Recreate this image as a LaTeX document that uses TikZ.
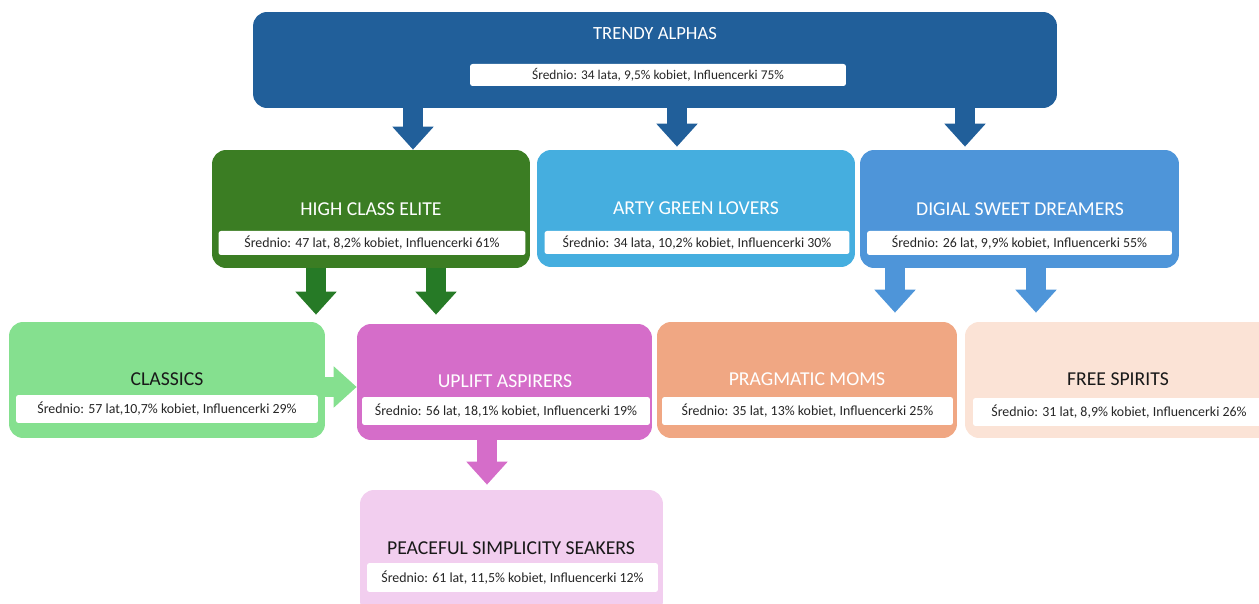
\documentclass[tikz,border=0pt]{standalone}
\usepackage{fontspec}
\setmainfont{Carlito}
\usetikzlibrary{positioning, arrows.meta}

\definecolor{alphablue}{HTML}{215F9A}
\definecolor{elitegreen}{HTML}{3B7D23}
\definecolor{elitearrow}{HTML}{267A26}
\definecolor{artyblue}{HTML}{45AEDF}
\definecolor{dreamblue}{HTML}{4E95D9}
\definecolor{classicgreen}{HTML}{85E08F}
\definecolor{upliftpink}{HTML}{D56DC9}
\definecolor{momorange}{HTML}{F0A783}
\definecolor{spiritpeach}{HTML}{FBE3D6}
\definecolor{peacepink}{HTML}{F2CEEF}

\begin{document}
\begin{tikzpicture}[
    x=0.02cm, y=-0.02cm,
    % Styles
    group/.style={rectangle, rounded corners=0.28cm, inner sep=0pt},
    title/.style={font=\fontsize{11.2}{13}\selectfont, text=white, inner sep=0pt},
    darktitle/.style={title, text=black!90},
    stats/.style={fill=white, rectangle, rounded corners=0.05cm, inner sep=0pt,
        font=\fontsize{7.9}{9}\selectfont, text=black!85},
    blockarrow/.style={line width=0.4cm, -{Triangle[length=0.46cm, width=0.8cm]}}
]
    \useasboundingbox (0,0) rectangle (1259,604);

    % --- TOP LEVEL ---
    \node[group, fill=alphablue, minimum width=16.08cm, minimum height=1.92cm] (alphas) at (655,60) {};
    \node[title, font=\fontsize{10.6}{12}\selectfont] (alphas-t) at (655,34) {TRENDY ALPHAS};
    \node[stats, minimum width=7.52cm, minimum height=0.44cm, font=\fontsize{7.6}{9}\selectfont] (alphas-s) at (658,75) {Średnio: 34 lata, 9,5\% kobiet, Influencerki 75\%};

    % --- SECOND LEVEL ---
    \node[group, fill=elitegreen, minimum width=6.36cm, minimum height=2.36cm] (elite) at (371,209) {};
    \node[title] (elite-t) at (371,209) {HIGH CLASS ELITE};
    \node[stats, minimum width=6.14cm, minimum height=0.48cm] (elite-s) at (372,243) {Średnio: 47 lat, 8,2\% kobiet, Influencerki 61\%};

    \node[group, fill=artyblue, minimum width=6.36cm, minimum height=2.34cm] (arty) at (696,208.5) {};
    \node[title] (arty-t) at (696,208) {ARTY GREEN LOVERS};
    \node[stats, minimum width=6.10cm, minimum height=0.46cm] (arty-s) at (697,242.5) {Średnio: 34 lata, 10,2\% kobiet, Influencerki 30\%};

    \node[group, fill=dreamblue, minimum width=6.38cm, minimum height=2.36cm] (dreamers) at (1019.5,209) {};
    \node[title] (dreamers-t) at (1020,209) {DIGIAL SWEET DREAMERS};
    \node[stats, minimum width=6.10cm, minimum height=0.48cm] (dreamers-s) at (1019.5,243) {Średnio: 26 lat, 9,9\% kobiet, Influencerki 55\%};

    % --- THIRD LEVEL ---
    \node[group, fill=classicgreen, minimum width=6.32cm, minimum height=2.32cm] (classics) at (167,380) {};
    \node[darktitle] (classics-t) at (167,379) {CLASSICS};
    \node[stats, minimum width=6.04cm, minimum height=0.56cm] (classics-s) at (167,409) {Średnio: 57 lat,10,7\% kobiet, Influencerki 29\%};

    \node[group, fill=upliftpink, minimum width=5.9cm, minimum height=2.32cm] (uplift) at (504.5,382) {};
    \node[title] (uplift-t) at (505,381) {UPLIFT ASPIRERS};
    \node[stats, minimum width=5.76cm, minimum height=0.56cm] (uplift-s) at (506,411) {Średnio: 56 lat, 18,1\% kobiet, Influencerki 19\%};

    \node[group, fill=momorange, minimum width=6.0cm, minimum height=2.32cm] (moms) at (807,380) {};
    \node[title] (moms-t) at (807,379) {PRAGMATIC MOMS};
    \node[stats, minimum width=5.82cm, minimum height=0.56cm] (moms-s) at (807.5,411) {Średnio: 35 lat, 13\% kobiet, Influencerki 25\%};

    \node[group, fill=spiritpeach, minimum width=6.2cm, minimum height=2.32cm] (spirits) at (1120,380) {};
    \node[darktitle] (spirits-t) at (1118,379) {FREE SPIRITS};
    \node[stats, minimum width=5.84cm, minimum height=0.56cm] (spirits-s) at (1119,412) {Średnio: 31 lat, 8,9\% kobiet, Influencerki 26\%};

    % --- FOURTH LEVEL ---
    \node[group, fill=peacepink, minimum width=6.06cm, minimum height=2.5cm] (peace) at (511.5,552.5) {};
    \node[darktitle] (peace-t) at (511,548) {PEACEFUL SIMPLICITY SEAKERS};
    \node[stats, minimum width=5.82cm, minimum height=0.58cm] (peace-s) at (512.5,577.5) {Średnio: 61 lat, 11,5\% kobiet, Influencerki 12\%};

    % --- CONNECTIONS ---
    \draw[blockarrow, alphablue] (alphas.south -| 413,0) -- (elite.north -| 413,0);
    \draw[blockarrow, alphablue] (alphas.south -| 677,0) -- ([yshift=0.06cm]arty.north -| 677,0);
    \draw[blockarrow, alphablue] (alphas.south -| 965,0) -- ([yshift=0.06cm]dreamers.north -| 965,0);

    \draw[blockarrow, elitearrow] (elite.south -| 316,0) -- ([yshift=0.14cm]classics.north -| 316,0);
    \draw[blockarrow, elitearrow] (elite.south -| 436,0) -- ([yshift=0.18cm]uplift.north -| 436,0);

    \draw[blockarrow, dreamblue] (dreamers.south -| 895,0) -- ([yshift=0.18cm]moms.north -| 895,0);
    \draw[blockarrow, dreamblue] (dreamers.south -| 1036,0) -- ([yshift=0.18cm]spirits.north -| 1036,0);

    \draw[blockarrow, classicgreen] (classics.east |- 0,387) -- (uplift.west |- 0,387);
    \draw[blockarrow, upliftpink] (uplift.south -| 487,0) -- ([yshift=0.1cm]peace.north -| 487,0);

\end{tikzpicture}
\end{document}
